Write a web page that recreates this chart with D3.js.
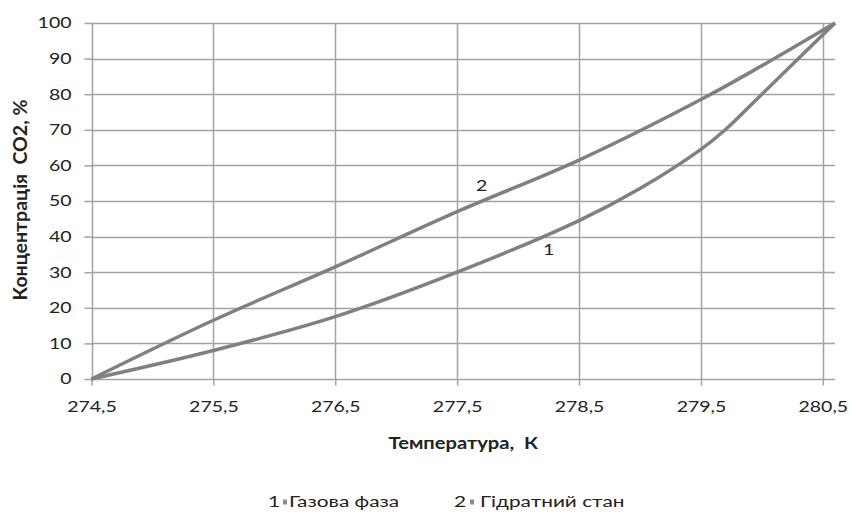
<!DOCTYPE html>
<html><head><meta charset="utf-8">
<script src="https://cdn.jsdelivr.net/npm/d3@7"></script>
<style>body{margin:0;background:#fff}svg{display:block}text{font-family:Lato,"Liberation Sans",sans-serif;fill:#222}</style>
</head><body><svg id="c" width="851" height="512"></svg>
<script>
const xTicks = [274.5, 275.5, 276.5, 277.5, 278.5, 279.5, 280.5];
const yTicks = [0,10,20,30,40,50,60,70,80,90,100];
const gasT = [274.5, 275.5, 276.5, 277.5, 278.5, 279.0, 279.5, 279.7, 280.0, 280.6];
const gasC = [0, 8, 17.5, 30, 44.5, 53.5, 64.5, 70, 80, 100];
const hydT = [274.5, 275.5, 276.5, 277.5, 278.5, 279.5, 280.0, 280.6];
const hydC = [0, 16.5, 31.5, 47, 61.5, 78.5, 88, 100];
const seriesNames = ["Газова фаза", "Гідратний стан"];
const seriesLabels = ["1", "2"];

const svg = d3.select("#c");
const x = d3.scaleLinear().domain([274.5, 280.6]).range([91.5, 835]);
const y = d3.scaleLinear().domain([0, 100]).range([379, 23]);
const fmt = d => String(d).replace(".", ",");
const grid = "#a3a3a3";
const SX = 1.3;

// gridlines
svg.append("g").selectAll("line").data(yTicks.filter(d=>d>0)).join("line")
  .attr("x1", x.range()[0]).attr("x2", x.range()[1])
  .attr("y1", d=>Math.round(y(d))+0.5).attr("y2", d=>Math.round(y(d))+0.5)
  .attr("stroke", grid).attr("stroke-width", 1.5);
svg.append("g").selectAll("line").data(xTicks.slice(1)).join("line")
  .attr("x1", d=>Math.round(x(d))+0.5).attr("x2", d=>Math.round(x(d))+0.5)
  .attr("y1", y(0)).attr("y2", y(100))
  .attr("stroke", grid).attr("stroke-width", 1.5);

// axes
const yAxis = svg.append("g").attr("transform", `translate(${Math.round(x.range()[0])+0.5},0)`)
  .call(d3.axisLeft(y).tickValues(yTicks).tickSize(8).tickPadding(13).tickFormat(d=>d));
const xAxis = svg.append("g").attr("transform", `translate(0,${Math.round(y(0))+0.5})`)
  .call(d3.axisBottom(x).tickValues(xTicks).tickSize(6).tickPadding(16).tickFormat(fmt));
[yAxis, xAxis].forEach(a=>{
  a.select(".domain").attr("stroke", grid).attr("stroke-width", 1.5);
  a.selectAll(".tick line").attr("stroke", grid).attr("stroke-width", 1.5);
  a.selectAll(".tick text").style("font-size", "15px").attr("fill", "#222")
    .each(function(){
      const t = d3.select(this);
      const tx = +t.attr("x") || 0, ty = +t.attr("y") || 0;
      t.attr("x", 0).attr("y", 0).attr("transform", `translate(${tx},${ty}) scale(${SX},1)`);
    });
});
xAxis.select(".domain").attr("d", `M${x.range()[0]},0H${x.range()[1]}`);
yAxis.select(".domain").attr("d", `M0,${y(0)}V${y(100)}`);

// lines
const line = d3.line().x(d=>x(d[0])).y(d=>y(d[1])).curve(d3.curveCatmullRom.alpha(0.5));
const series = [d3.zip(gasT, gasC), d3.zip(hydT, hydC)];
svg.append("g").selectAll("path").data(series).join("path")
  .attr("d", line).attr("fill", "none").attr("stroke", "#808080")
  .attr("stroke-width", 3.5).attr("stroke-linejoin", "round");

// in-plot labels
const lbl = (t, tx, ty) => svg.append("text")
  .attr("transform", `translate(${x(tx)},${y(ty)}) scale(${SX},1)`)
  .attr("text-anchor","middle").style("font-size","15px").text(t);
lbl(seriesLabels[0], 278.25, 34.8);
lbl(seriesLabels[1], 277.7, 52.8);

// axis titles
svg.append("text").attr("transform", "translate(27,200) rotate(-90)").attr("text-anchor","middle")
  .style("font-size","19.5px").style("font-weight","bold").attr("xml:space","preserve").text("Концентрація  CO2, %");
svg.append("text").attr("transform", `translate(${(x.range()[0]+x.range()[1])/2},449) scale(1.15,1)`).attr("text-anchor","middle")
  .style("font-size","17.5px").style("font-weight","bold").attr("xml:space","preserve").text("Температура,  К");

// legend
const leg = svg.append("g");
const legX = [268, 454];
const keyDx = [15, 16];
const nameDx = [21, 26];
seriesNames.forEach((n,i)=>{
  leg.append("text").attr("transform", `translate(${legX[i]},507) scale(${SX},1)`).style("font-size","16px").text(seriesLabels[i]);
  leg.append("rect").attr("x", legX[i]+keyDx[i]).attr("y", 499.5).attr("width", 4).attr("height", 5).attr("fill", "#8c8c8c");
  leg.append("text").attr("transform", `translate(${legX[i]+nameDx[i]},507) scale(${SX},1)`).style("font-size","16px").text(n);
});
</script></body></html>
